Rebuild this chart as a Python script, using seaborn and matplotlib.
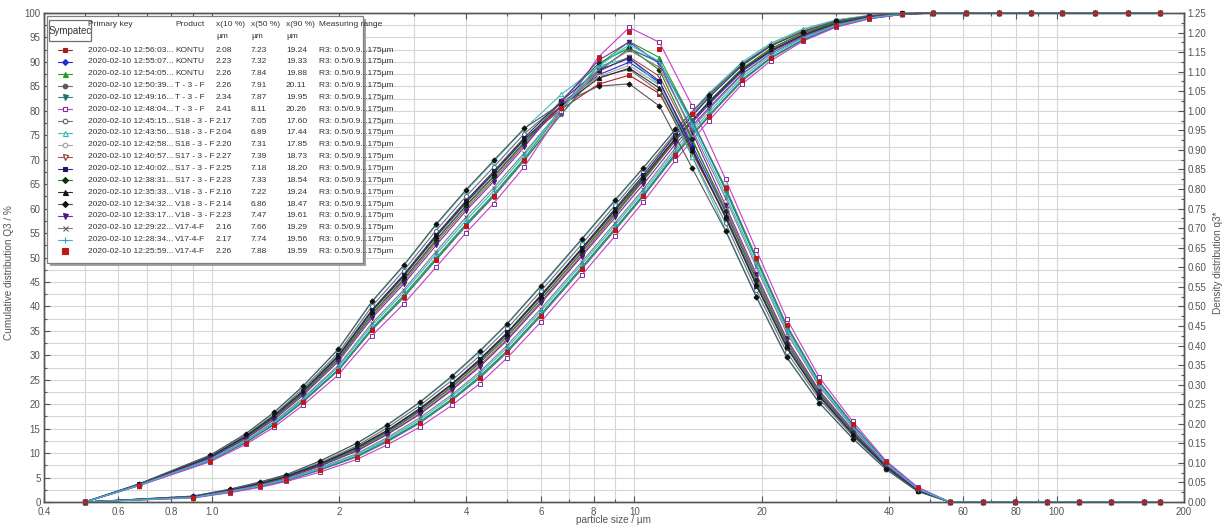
import matplotlib
matplotlib.use("Agg")
import matplotlib.pyplot as plt
import seaborn as sns
from matplotlib.patches import Rectangle
from matplotlib.ticker import FixedLocator, FixedFormatter, NullFormatter, MultipleLocator, FormatStrFormatter

# ---------------- data ----------------
# class upper limits (cumulative Q3) and class mid points (density q3*)
sizes_q3 = [0.5, 0.9, 1.1, 1.3, 1.5, 1.8, 2.2, 2.6, 3.1, 3.7, 4.3, 5.0, 6.0, 7.5, 9.0, 10.5,
            12.5, 15.0, 18.0, 21.0, 25.0, 30.0, 36.0, 43.0, 51.0, 61.0, 73.0, 87.0, 103.0,
            123.0, 147.0, 175.0]
sizes_q3dens = [0.5, 0.67, 0.99, 1.2, 1.4, 1.64, 1.99, 2.39, 2.84, 3.39, 3.99, 4.64, 5.48,
                6.71, 8.22, 9.72, 11.46, 13.69, 16.43, 19.44, 22.91, 27.39, 32.86, 39.34,
                46.83, 55.77, 66.73, 79.72, 94.67, 112.56, 134.47, 160.39, 175.0]

primary_keys = ["2020-02-10 12:56:03...", "2020-02-10 12:55:07...", "2020-02-10 12:54:05...",
                "2020-02-10 12:50:39...", "2020-02-10 12:49:16...", "2020-02-10 12:48:04...",
                "2020-02-10 12:45:15...", "2020-02-10 12:43:56...", "2020-02-10 12:42:58...",
                "2020-02-10 12:40:57...", "2020-02-10 12:40:02...", "2020-02-10 12:38:31...",
                "2020-02-10 12:35:33...", "2020-02-10 12:34:32...", "2020-02-10 12:33:17...",
                "2020-02-10 12:29:22...", "2020-02-10 12:28:34...", "2020-02-10 12:25:59..."]
products = ["KONTU", "KONTU", "KONTU", "T - 3 - F", "T - 3 - F", "T - 3 - F",
            "S18 - 3 - F", "S18 - 3 - F", "S18 - 3 - F", "S17 - 3 - F", "S17 - 3 - F",
            "S17 - 3 - F", "V18 - 3 - F", "V18 - 3 - F", "V18 - 3 - F", "V17-4-F",
            "V17-4-F", "V17-4-F"]
x10_um = ["2.08", "2.23", "2.26", "2.26", "2.34", "2.41", "2.17", "2.04", "2.20", "2.27",
          "2.25", "2.23", "2.16", "2.14", "2.23", "2.16", "2.17", "2.26"]
x50_um = ["7.23", "7.32", "7.84", "7.91", "7.87", "8.11", "7.05", "6.89", "7.31", "7.39",
          "7.18", "7.33", "7.22", "6.86", "7.47", "7.66", "7.74", "7.88"]
x90_um = ["19.24", "19.33", "19.88", "20.11", "19.95", "20.26", "17.60", "17.44", "17.85",
          "18.73", "18.20", "18.54", "19.24", "18.47", "19.61", "19.29", "19.56", "19.59"]
meas_range = "R3: 0.5/0.9...175µm"

xtick_major = [0.4, 0.6, 0.8, 1.0, 2, 4, 6, 8, 10, 20, 40, 60, 80, 100, 200]
xtick_labels = ["0.4", "0.6", "0.8", "1.0", "2", "4", "6", "8", "10", "20", "40", "60", "80", "100", "200"]
xtick_minor = [0.5, 0.7, 0.9, 3, 5, 7, 9, 30, 50, 70, 90]

cum_s01 = [0, 1.1, 2.4, 3.8, 5.2, 7.7, 11.1, 14.6, 18.9, 24.0, 28.9, 34.5, 42.0, 51.6, 59.6, 66.4, 74.4, 81.6, 88.4, 92.3, 95.5, 97.9, 99.2, 99.8, 100, 100, 100, 100, 100, 100, 100, 100]
cum_s02 = [0, 1.0, 2.4, 3.7, 5.1, 7.6, 10.8, 14.3, 18.6, 23.6, 28.5, 34.0, 41.5, 51.1, 59.1, 65.9, 73.9, 81.3, 88.1, 92.1, 95.3, 97.8, 99.1, 99.8, 100, 100, 100, 100, 100, 100, 100, 100]
cum_s03 = [0, 0.9, 2.0, 3.2, 4.5, 6.6, 9.4, 12.6, 16.4, 21.1, 25.7, 31.0, 38.4, 48.0, 56.0, 62.9, 71.3, 79.1, 86.4, 90.9, 94.5, 97.3, 98.9, 99.7, 100, 100, 100, 100, 100, 100, 100, 100]
cum_s04 = [0, 0.9, 2.0, 3.2, 4.4, 6.5, 9.2, 12.3, 16.1, 20.8, 25.3, 30.6, 38.0, 47.6, 55.6, 62.5, 70.9, 78.8, 86.1, 90.7, 94.4, 97.2, 98.9, 99.7, 100, 100, 100, 100, 100, 100, 100, 100]
cum_s05 = [0, 0.9, 2.0, 3.2, 4.4, 6.6, 9.3, 12.5, 16.2, 20.9, 25.5, 30.8, 38.2, 47.8, 55.8, 62.7, 71.1, 78.9, 86.3, 90.8, 94.5, 97.3, 98.9, 99.7, 100, 100, 100, 100, 100, 100, 100, 100]
cum_s06 = [0, 0.8, 1.9, 3.0, 4.2, 6.1, 8.7, 11.7, 15.3, 19.8, 24.2, 29.5, 36.8, 46.4, 54.4, 61.4, 69.9, 78.0, 85.5, 90.2, 94.2, 97.1, 98.8, 99.7, 100, 100, 100, 100, 100, 100, 100, 100]
cum_s07 = [0, 1.1, 2.5, 3.9, 5.4, 8.0, 11.5, 15.2, 19.7, 24.9, 29.9, 35.5, 43.1, 52.7, 60.7, 67.5, 75.5, 83.0, 89.6, 93.5, 96.5, 98.5, 99.5, 99.9, 100, 100, 100, 100, 100, 100, 100, 100]
cum_s08 = [0, 1.2, 2.6, 4.1, 5.6, 8.3, 12.0, 15.7, 20.3, 25.6, 30.7, 36.4, 44.0, 53.6, 61.6, 68.3, 76.2, 83.6, 90.0, 93.8, 96.7, 98.6, 99.5, 99.9, 100, 100, 100, 100, 100, 100, 100, 100]
cum_s09 = [0, 1.0, 2.3, 3.7, 5.1, 7.5, 10.7, 14.2, 18.5, 23.6, 28.5, 34.0, 41.5, 51.1, 59.4, 66.5, 75.0, 82.8, 89.5, 93.4, 96.4, 98.4, 99.4, 99.9, 100, 100, 100, 100, 100, 100, 100, 100]
cum_s10 = [0, 1.0, 2.3, 3.6, 5.0, 7.4, 10.5, 13.9, 18.1, 23.1, 27.9, 33.4, 40.9, 50.5, 58.7, 65.7, 74.0, 81.8, 88.6, 92.6, 95.8, 98.0, 99.2, 99.8, 100, 100, 100, 100, 100, 100, 100, 100]
cum_s11 = [0, 1.1, 2.4, 3.8, 5.3, 7.8, 11.2, 14.7, 19.1, 24.2, 29.2, 34.7, 42.3, 51.9, 60.0, 66.9, 75.1, 82.7, 89.3, 93.2, 96.2, 98.3, 99.4, 99.9, 100, 100, 100, 100, 100, 100, 100, 100]
cum_s12 = [0, 1.0, 2.3, 3.7, 5.1, 7.5, 10.8, 14.2, 18.5, 23.5, 28.4, 33.9, 41.4, 51.0, 59.1, 66.0, 74.2, 81.9, 88.7, 92.7, 95.9, 98.1, 99.3, 99.8, 100, 100, 100, 100, 100, 100, 100, 100]
cum_s13 = [0, 1.1, 2.4, 3.8, 5.2, 7.7, 11.1, 14.6, 19.0, 24.1, 29.0, 34.5, 42.1, 51.7, 59.7, 66.4, 74.4, 81.7, 88.4, 92.3, 95.5, 97.9, 99.2, 99.8, 100, 100, 100, 100, 100, 100, 100, 100]
cum_s14 = [0, 1.2, 2.6, 4.1, 5.6, 8.4, 12.0, 15.8, 20.4, 25.8, 30.9, 36.5, 44.2, 53.8, 61.8, 68.4, 76.2, 83.3, 89.6, 93.3, 96.2, 98.3, 99.4, 99.9, 100, 100, 100, 100, 100, 100, 100, 100]
cum_s15 = [0, 1.0, 2.3, 3.5, 4.9, 7.3, 10.4, 13.8, 17.9, 22.9, 27.6, 33.1, 40.6, 50.2, 58.2, 65.0, 73.2, 80.6, 87.6, 91.7, 95.1, 97.6, 99.1, 99.8, 100, 100, 100, 100, 100, 100, 100, 100]
cum_s16 = [0, 0.9, 2.2, 3.4, 4.7, 7.0, 9.9, 13.2, 17.2, 22.0, 26.6, 32.1, 39.5, 49.1, 57.1, 64.0, 72.4, 80.3, 87.4, 91.7, 95.0, 97.6, 99.0, 99.8, 100, 100, 100, 100, 100, 100, 100, 100]
cum_s17 = [0, 0.9, 2.1, 3.3, 4.6, 6.8, 9.7, 12.9, 16.8, 21.6, 26.2, 31.6, 39.0, 48.6, 56.6, 63.5, 71.8, 79.7, 86.9, 91.3, 94.8, 97.4, 99.0, 99.8, 100, 100, 100, 100, 100, 100, 100, 100]
cum_s18 = [0, 0.9, 2.0, 3.2, 4.4, 6.5, 9.3, 12.4, 16.2, 20.9, 25.4, 30.7, 38.1, 47.7, 55.7, 62.6, 71.0, 78.9, 86.2, 90.7, 94.5, 97.3, 98.9, 99.7, 100, 100, 100, 100, 100, 100, 100, 100]

den_s01 = [0, 0.045, 0.115, 0.166, 0.218, 0.282, 0.372, 0.487, 0.576, 0.678, 0.765, 0.840, 0.926, 1.004, 1.068, 1.091, 1.044, 0.893, 0.732, 0.559, 0.399, 0.272, 0.175, 0.091, 0.030, 0, 0, 0, 0, 0, 0, 0, 0]
den_s02 = [0, 0.044, 0.114, 0.164, 0.215, 0.278, 0.367, 0.481, 0.569, 0.670, 0.758, 0.833, 0.919, 1.012, 1.092, 1.124, 1.073, 0.913, 0.741, 0.567, 0.406, 0.277, 0.178, 0.092, 0.031, 0, 0, 0, 0, 0, 0, 0, 0]
den_s03 = [0, 0.042, 0.107, 0.153, 0.199, 0.258, 0.339, 0.444, 0.528, 0.624, 0.711, 0.786, 0.878, 1.002, 1.117, 1.177, 1.136, 0.976, 0.797, 0.618, 0.447, 0.305, 0.197, 0.102, 0.035, 0, 0, 0, 0, 0, 0, 0, 0]
den_s04 = [0, 0.042, 0.106, 0.151, 0.197, 0.255, 0.336, 0.439, 0.522, 0.618, 0.705, 0.780, 0.872, 0.991, 1.101, 1.159, 1.125, 0.975, 0.804, 0.625, 0.453, 0.308, 0.199, 0.103, 0.036, 0, 0, 0, 0, 0, 0, 0, 0]
den_s05 = [0, 0.042, 0.106, 0.152, 0.198, 0.256, 0.337, 0.441, 0.524, 0.620, 0.708, 0.783, 0.874, 0.992, 1.102, 1.159, 1.123, 0.973, 0.801, 0.622, 0.451, 0.307, 0.198, 0.102, 0.036, 0, 0, 0, 0, 0, 0, 0, 0]
den_s06 = [0, 0.041, 0.103, 0.147, 0.191, 0.247, 0.325, 0.425, 0.506, 0.600, 0.688, 0.763, 0.856, 1.000, 1.138, 1.213, 1.175, 1.013, 0.825, 0.644, 0.469, 0.319, 0.206, 0.106, 0.038, 0, 0, 0, 0, 0, 0, 0, 0]
den_s07 = [0, 0.045, 0.117, 0.170, 0.223, 0.289, 0.381, 0.500, 0.591, 0.694, 0.781, 0.856, 0.941, 1.021, 1.086, 1.106, 1.049, 0.884, 0.713, 0.541, 0.384, 0.263, 0.169, 0.088, 0.028, 0, 0, 0, 0, 0, 0, 0, 0]
den_s08 = [0, 0.046, 0.119, 0.174, 0.228, 0.295, 0.390, 0.511, 0.603, 0.708, 0.795, 0.870, 0.953, 1.042, 1.114, 1.135, 1.066, 0.883, 0.696, 0.526, 0.372, 0.254, 0.163, 0.085, 0.027, 0, 0, 0, 0, 0, 0, 0, 0]
den_s09 = [0, 0.044, 0.114, 0.166, 0.217, 0.281, 0.370, 0.485, 0.574, 0.675, 0.763, 0.838, 0.924, 1.013, 1.088, 1.116, 1.065, 0.905, 0.735, 0.561, 0.401, 0.274, 0.176, 0.091, 0.030, 0, 0, 0, 0, 0, 0, 0, 0]
den_s10 = [0, 0.044, 0.113, 0.163, 0.213, 0.275, 0.363, 0.475, 0.563, 0.663, 0.750, 0.825, 0.913, 1.013, 1.100, 1.138, 1.088, 0.925, 0.750, 0.575, 0.413, 0.281, 0.181, 0.094, 0.031, 0, 0, 0, 0, 0, 0, 0, 0]
den_s11 = [0, 0.045, 0.116, 0.168, 0.220, 0.284, 0.375, 0.491, 0.581, 0.683, 0.770, 0.845, 0.931, 1.025, 1.104, 1.134, 1.076, 0.905, 0.726, 0.553, 0.395, 0.269, 0.173, 0.090, 0.029, 0, 0, 0, 0, 0, 0, 0, 0]
den_s12 = [0, 0.044, 0.113, 0.164, 0.215, 0.278, 0.366, 0.480, 0.568, 0.669, 0.756, 0.831, 0.918, 1.026, 1.121, 1.161, 1.104, 0.929, 0.743, 0.568, 0.407, 0.278, 0.179, 0.093, 0.031, 0, 0, 0, 0, 0, 0, 0, 0]
den_s13 = [0, 0.045, 0.115, 0.167, 0.218, 0.282, 0.372, 0.488, 0.577, 0.679, 0.766, 0.841, 0.927, 1.012, 1.083, 1.109, 1.058, 0.899, 0.731, 0.557, 0.398, 0.272, 0.175, 0.091, 0.030, 0, 0, 0, 0, 0, 0, 0, 0]
den_s14 = [0, 0.046, 0.120, 0.174, 0.229, 0.296, 0.391, 0.513, 0.605, 0.710, 0.798, 0.873, 0.955, 1.018, 1.063, 1.069, 1.012, 0.854, 0.693, 0.523, 0.370, 0.253, 0.162, 0.084, 0.027, 0, 0, 0, 0, 0, 0, 0, 0]
den_s15 = [0, 0.043, 0.112, 0.161, 0.210, 0.272, 0.359, 0.470, 0.557, 0.656, 0.744, 0.819, 0.907, 1.024, 1.129, 1.176, 1.121, 0.946, 0.758, 0.582, 0.418, 0.285, 0.184, 0.095, 0.032, 0, 0, 0, 0, 0, 0, 0, 0]
den_s16 = [0, 0.043, 0.109, 0.157, 0.205, 0.265, 0.349, 0.457, 0.542, 0.640, 0.728, 0.803, 0.892, 1.004, 1.106, 1.155, 1.111, 0.953, 0.777, 0.600, 0.433, 0.295, 0.190, 0.098, 0.034, 0, 0, 0, 0, 0, 0, 0, 0]
den_s17 = [0, 0.042, 0.108, 0.155, 0.202, 0.262, 0.345, 0.451, 0.536, 0.633, 0.720, 0.795, 0.886, 1.005, 1.114, 1.169, 1.126, 0.965, 0.786, 0.608, 0.440, 0.299, 0.193, 0.100, 0.034, 0, 0, 0, 0, 0, 0, 0, 0]
den_s18 = [0, 0.042, 0.106, 0.152, 0.197, 0.255, 0.336, 0.440, 0.523, 0.619, 0.706, 0.781, 0.873, 1.008, 1.135, 1.201, 1.158, 0.991, 0.803, 0.623, 0.452, 0.308, 0.199, 0.103, 0.036, 0, 0, 0, 0, 0, 0, 0, 0]

cum_series = [cum_s01, cum_s02, cum_s03, cum_s04, cum_s05, cum_s06, cum_s07, cum_s08, cum_s09,
              cum_s10, cum_s11, cum_s12, cum_s13, cum_s14, cum_s15, cum_s16, cum_s17, cum_s18]
den_series = [den_s01, den_s02, den_s03, den_s04, den_s05, den_s06, den_s07, den_s08, den_s09,
              den_s10, den_s11, den_s12, den_s13, den_s14, den_s15, den_s16, den_s17, den_s18]

# ---------------- styles ----------------
line_colors = ["#b02020", "#2a2ad0", "#22a022", "#6e6e6e", "#1f8a8a", "#c83cc8", "#707070",
               "#3cc0c0", "#a8a8a8", "#a85050", "#2a2a8a", "#1a8a1a", "#303030", "#555555",
               "#7a2aaa", "#808080", "#30b8e0", "#c01818"]
marker_colors = ["#a81c1c", "#2a2ad0", "#22a022", "#5a5a5a", "#1f7070", "#8a2a9a", "#606060",
                 "#3cb0b0", "#a0a0a0", "#8a3030", "#1a1a60", "#0a300a", "#111111", "#111111",
                 "#4a1a7a", "#606060", "#2aa0c8", "#c01818"]
markers = ["s", "D", "^", "o", "v", "s", "o", "^", "o", "v", "s", "D", "^", "D", "v", "x", "+", "s"]
filled = [True, True, True, True, True, False, False, False, False, False, True, True, True,
          True, True, True, True, True]
msizes = [3.0, 2.6, 3.2, 2.9, 3.2, 3.0, 2.9, 3.2, 2.9, 3.2, 3.0, 2.6, 3.2, 2.6, 3.2, 3.2, 3.6, 3.4]
lwidths = [0.8] * 17 + [0.0]

sns.set_theme(style="white")
plt.rcParams["font.family"] = ["Liberation Sans", "DejaVu Sans"]

W, H = 1223, 529
L, R, T, B = 44, 1184, 13, 502
fig = plt.figure(figsize=(W / 100, H / 100), dpi=100)
fig.patch.set_facecolor("white")
ax = fig.add_axes([L / W, 1 - B / H, (R - L) / W, (B - T) / H])
ax.set_xscale("log")
ax2 = ax.twinx()

for i in range(18):
    mc = marker_colors[i]
    kw = dict(color=line_colors[i], marker=markers[i], markersize=msizes[i],
              markerfacecolor=(mc if filled[i] else "white"), markeredgecolor=mc,
              markeredgewidth=0.7, linewidth=lwidths[i], clip_on=False,
              estimator=None, legend=False)
    sns.lineplot(x=sizes_q3, y=cum_series[i], ax=ax, **kw)
    sns.lineplot(x=sizes_q3dens, y=den_series[i], ax=ax2, **kw)

ax.set_xlim(0.4, 200)
ax.set_ylim(0, 100)
ax2.set_ylim(0, 1.25)

tick_col = "#555555"
ax.xaxis.set_major_locator(FixedLocator(xtick_major))
ax.xaxis.set_major_formatter(FixedFormatter(xtick_labels))
ax.xaxis.set_minor_locator(FixedLocator(xtick_minor))
ax.xaxis.set_minor_formatter(NullFormatter())
ax.yaxis.set_major_locator(MultipleLocator(5))
ax.yaxis.set_minor_locator(MultipleLocator(2.5))
ax2.yaxis.set_major_locator(MultipleLocator(0.05))
ax2.yaxis.set_minor_locator(MultipleLocator(0.025))
ax2.yaxis.set_major_formatter(FormatStrFormatter("%.2f"))

ax.set_axisbelow(True)
ax.grid(True, which="both", color="#d6d6d6", linewidth=0.8)
ax2.grid(False)

ax.tick_params(axis="both", which="both", direction="in", colors=tick_col, labelsize=7,
               top=True, bottom=True, left=True, right=False, pad=2.5)
ax.tick_params(axis="x", which="both", pad=3.8)
ax.tick_params(which="major", length=4, width=0.8)
ax.tick_params(which="minor", length=2.5, width=0.8)
ax2.tick_params(axis="y", which="both", direction="in", colors=tick_col, labelsize=7, pad=2.5)
ax2.tick_params(which="major", length=4, width=0.8)
ax2.tick_params(which="minor", length=2.5, width=0.8)

for a in (ax, ax2):
    for s in a.spines.values():
        s.set_color("#555555")
        s.set_linewidth(1.0)

ax.set_xlabel("particle size / µm", fontsize=7.2, color=tick_col)
ax.xaxis.set_label_coords(0.5, -0.027)
ax.set_ylabel("Cumulative distribution Q3 / %", fontsize=7.2, color=tick_col)
ax.yaxis.set_label_coords((14 - L) / (R - L), 0.47)
ax2.set_ylabel("Density distribution q3*", fontsize=7.2, color=tick_col)
ax2.yaxis.set_label_coords((1213 - L) / (R - L), 0.49)

# ---------------- legend table ----------------
lax = fig.add_axes([0, 0, 1, 1], zorder=20)
lax.set_xlim(0, W)
lax.set_ylim(H, 0)
lax.axis("off")
lax.patch.set_alpha(0)

bx0, by0, bw, bh = 47, 16, 316, 247
lax.add_patch(Rectangle((bx0 + 3, by0 + 3), bw, bh, facecolor="#a0a0a0", edgecolor="none"))
lax.add_patch(Rectangle((bx0, by0), bw, bh, facecolor="white", edgecolor="#808080", lw=0.9))

txt = dict(fontsize=6, color="#333333", va="center", ha="left")
col_key, col_prod, col_x10, col_x50, col_x90, col_rng = 88, 175, 216, 251, 286, 319
lax.text(col_key, 25, "Primary key", **txt)
lax.text(col_prod, 25, "Product", **txt)
lax.text(col_x10, 25, "x(10 %)", **txt)
lax.text(col_x50, 25, "x(50 %)", **txt)
lax.text(col_x90, 25, "x(90 %)", **txt)
lax.text(col_rng, 25, "Measuring range", **txt)
for cx in (col_x10, col_x50, col_x90):
    lax.text(cx, 37, "µm", **txt)

# Sympatec badge
lax.add_patch(Rectangle((49, 20), 42, 21, facecolor="white", edgecolor="#707070", lw=0.9))
lax.text(70, 30.5, "Sympatec", fontsize=7, color="#333333", ha="center", va="center")

row0, dy = 50, 11.85
for i in range(18):
    y = row0 + i * dy
    mc = marker_colors[i]
    if lwidths[i] > 0:
        lax.plot([58, 72], [y, y], color=line_colors[i], lw=0.8)
    lax.plot([65], [y], marker=markers[i], markersize=msizes[i] + 0.4, linestyle="none",
             markerfacecolor=(mc if filled[i] else "white"), markeredgecolor=mc,
             markeredgewidth=0.8)
    lax.text(col_key, y, primary_keys[i], **txt)
    lax.text(col_prod, y, products[i], **txt)
    lax.text(col_x10, y, x10_um[i], **txt)
    lax.text(col_x50, y, x50_um[i], **txt)
    lax.text(col_x90, y, x90_um[i], **txt)
    lax.text(col_rng, y, meas_range, **txt)

fig.savefig("out.png", dpi=100, facecolor="white")
